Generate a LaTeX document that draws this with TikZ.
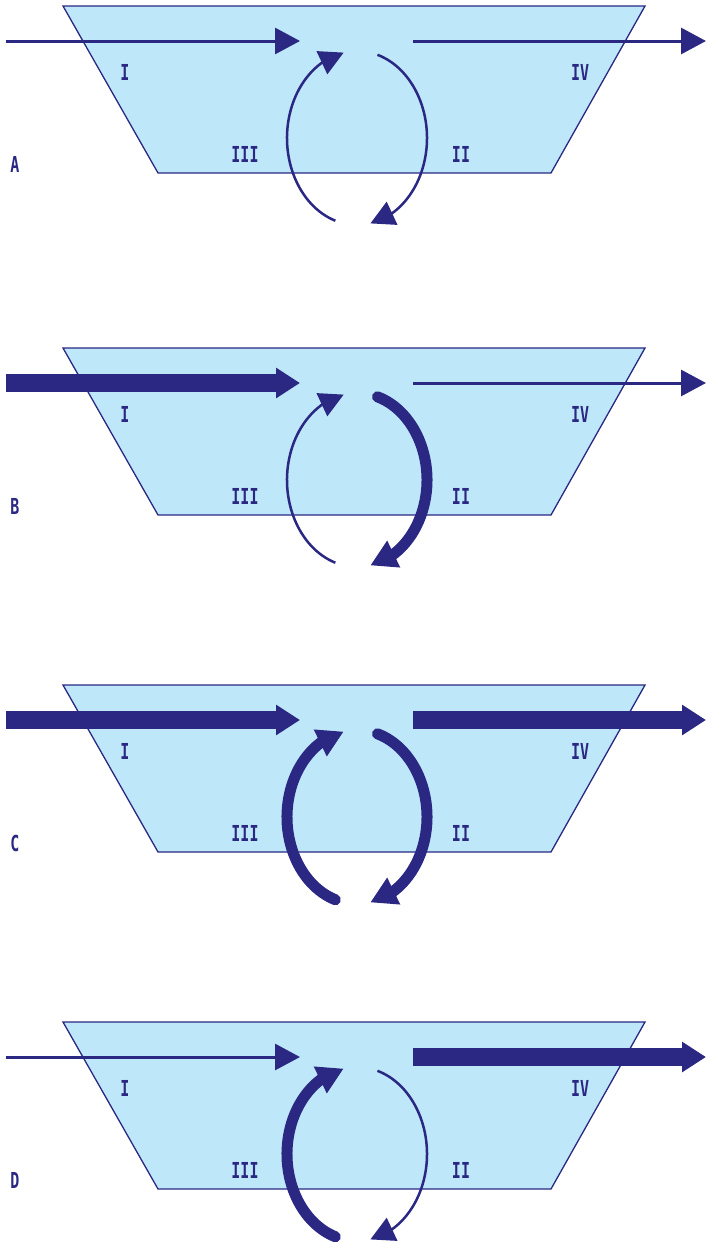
\documentclass[tikz,border=0pt]{standalone}
\usepackage{fontspec}
\newfontfamily\labfont{DejaVu Sans Mono}
\usetikzlibrary{arrows.meta,bending}
\definecolor{navy}{HTML}{2A2882}
\definecolor{water}{HTML}{BEE7F9}
\tikzset{
  tank/.style={draw=navy, fill=water, line width=1.3pt, line join=miter},
  thinarrow/.style={draw=navy, line width=3pt, -{Triangle[length=25pt,width=26pt]}},
  thickarrow/.style={draw=navy, line width=18pt, -{Triangle[length=24pt,width=29pt]}},
  thinarc/.style={draw=navy, line width=2.5pt, -{Triangle[length=24pt,width=25pt]}},
  thickarc/.style={draw=navy, line width=11pt, line cap=round, -{Triangle[length=26pt,width=28pt]}},
  lab/.style={text=navy, font=\labfont\bfseries\fontsize{22}{22}\selectfont, xscale=0.68, inner sep=0pt}
}
\newcommand\drawpanel[6]{%
\begin{scope}[yshift=-#1pt]
  \draw[tank] (63,-6) -- (645,-6) -- (551,-173) -- (158,-173) -- cycle;
  \coordinate (in#2a) at (6,-41);
  \coordinate (in#2b) at (300,-41);
  \coordinate (out#2a) at (413,-41);
  \coordinate (out#2b) at (706,-41);
  \coordinate (c#2) at (357,-138);
  \draw[#3] (in#2a) -- (in#2b);
  \draw[#4] (out#2a) -- (out#2b);
  \draw[#5] (c#2) ++(73:70 and 87) arc[start angle=73,end angle=-79,x radius=70,y radius=87];
  \draw[#6] (c#2) ++(252:70 and 87) arc[start angle=252,end angle=101,x radius=70,y radius=87];
  \node[lab] (I#2) at (125,-72) {I};
  \node[lab] (IV#2) at (580,-72) {IV};
  \node[lab] (III#2) at (245,-154) {III};
  \node[lab] (II#2) at (461,-154) {II};
  \node[lab] (L#2) at (15,-164) {#2};
\end{scope}}
\begin{document}
\begin{tikzpicture}[x=1pt,y=1pt]
\useasboundingbox (0,0) rectangle (706,-1242);
\drawpanel{0}{A}{thinarrow}{thinarrow}{thinarc}{thinarc}
\drawpanel{342}{B}{thickarrow}{thinarrow}{thickarc}{thinarc}
\drawpanel{679}{C}{thickarrow}{thickarrow}{thickarc}{thickarc}
\drawpanel{1016}{D}{thinarrow}{thickarrow}{thinarc}{thickarc}
\end{tikzpicture}
\end{document}
